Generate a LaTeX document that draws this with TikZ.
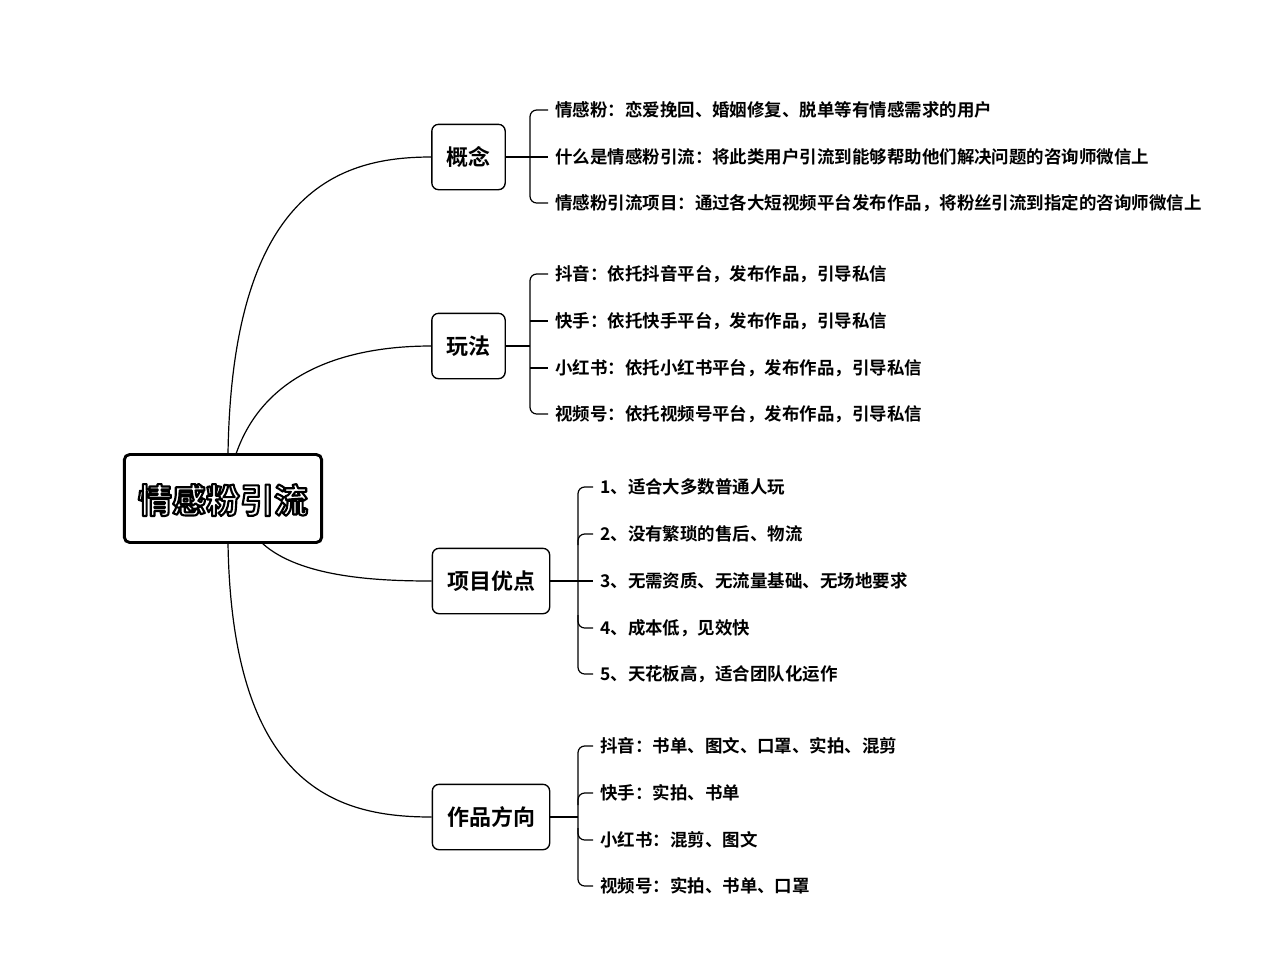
\documentclass[tikz,border=0pt]{standalone}
\usepackage{fontspec}
\usetikzlibrary{calc}
\setmainfont{Noto Sans CJK SC}[BoldFont={Noto Sans CJK SC Bold}]
\newcommand{\outlinedtext}[1]{{\color{white}\special{pdf:literal direct 2 Tr 1.6 w 1 j 0 G}#1\special{pdf:literal direct 0 Tr}}}
\begin{document}
\begin{tikzpicture}[x=0.75pt,y=-0.75pt,
  conn/.style={line width=0.9pt},
  subbox/.style={draw,line width=1pt,rounded corners=5pt,fill=white,minimum height=49pt,font=\fontsize{16.5pt}{18pt}\selectfont\bfseries,inner xsep=9pt},
  leaf/.style={anchor=west,inner sep=0pt,font=\fontsize{13.1pt}{15pt}\selectfont\bfseries},
  brk/.style={line width=0.9pt,rounded corners=5pt}]
\useasboundingbox (0,0) rectangle (1280,979);
\fill[white] (0,0) rectangle (1280,979);

% root
\node[draw,line width=2.2pt,rounded corners=4pt,minimum width=148pt,minimum height=66pt] (root) at (223,498.5) {};
\node[font=\fontsize{25.5pt}{27pt}\selectfont\bfseries] (roottext) at (223,500) {\outlinedtext{情感粉引流}};

% sub nodes
\node[subbox,minimum width=55pt] (gn) at (468.5,157) {概念};
\node[subbox,minimum width=55pt] (wf) at (468.5,346) {玩法};
\node[subbox,minimum width=88pt] (yd) at (491,581) {项目优点};
\node[subbox,minimum width=88pt] (zp) at (491,817) {作品方向};

% curves from root
\coordinate (r1) at (228,454);
\coordinate (r2) at (236,454);
\coordinate (r3) at (262,543);
\coordinate (r4) at (228,543);
\draw[conn] (r1) .. controls (232,190) and (340,157) .. (gn.west);
\draw[conn] (r2) .. controls (265,370) and (350,346) .. (wf.west);
\draw[conn] (r3) .. controls (300,578) and (380,581) .. (yd.west);
\draw[conn] (r4) .. controls (232,790) and (340,817) .. (zp.west);

% leaves: 概念
\node[leaf] (g1) at (555,110) {情感粉：恋爱挽回、婚姻修复、脱单等有情感需求的用户};
\node[leaf] (g2) at (555,157) {什么是情感粉引流：将此类用户引流到能够帮助他们解决问题的咨询师微信上};
\node[leaf] (g3) at (555,203) {情感粉引流项目：通过各大短视频平台发布作品，将粉丝引流到指定的咨询师微信上};
\draw[conn] (gn.east) -- ($(g2.west)+(-7,0)$);
\draw[brk] ($(g1.west)+(-7,0)$) -- (530,110) -- (530,203) -- ($(g3.west)+(-7,0)$);

% 玩法
\node[leaf] (w1) at (555,274) {抖音：依托抖音平台，发布作品，引导私信};
\node[leaf] (w2) at (555,321) {快手：依托快手平台，发布作品，引导私信};
\node[leaf] (w3) at (555,368) {小红书：依托小红书平台，发布作品，引导私信};
\node[leaf] (w4) at (555,414) {视频号：依托视频号平台，发布作品，引导私信};
\coordinate (wb) at (530,346);
\draw[conn] (wf.east) -- (wb);
\draw[brk] ($(w1.west)+(-7,0)$) -- (530,274) -- (530,414) -- ($(w4.west)+(-7,0)$);
\draw[brk] (530,321) -- ($(w2.west)+(-7,0)$);
\draw[brk] (530,368) -- ($(w3.west)+(-7,0)$);

% 项目优点
\node[leaf] (y1) at (600,487) {1、适合大多数普通人玩};
\node[leaf] (y2) at (600,534) {2、没有繁琐的售后、物流};
\node[leaf] (y3) at (600,581) {3、无需资质、无流量基础、无场地要求};
\node[leaf] (y4) at (600,628) {4、成本低，见效快};
\node[leaf] (y5) at (600,674) {5、天花板高，适合团队化运作};
\draw[conn] (yd.east) -- ($(y3.west)+(-7,0)$);
\draw[brk] ($(y1.west)+(-7,0)$) -- (578,487) -- (578,674) -- ($(y5.west)+(-7,0)$);
\draw[brk] ($(y2.west)+(-7,0)$) -- (578,534) -- (578,545);
\draw[brk] ($(y4.west)+(-7,0)$) -- (578,628) -- (578,615);

% 作品方向
\node[leaf] (z1) at (600,746) {抖音：书单、图文、口罩、实拍、混剪};
\node[leaf] (z2) at (600,793) {快手：实拍、书单};
\node[leaf] (z3) at (600,840) {小红书：混剪、图文};
\node[leaf] (z4) at (600,886) {视频号：实拍、书单、口罩};
\coordinate (zb) at (578,817);
\draw[conn] (zp.east) -- (zb);
\draw[brk] ($(z1.west)+(-7,0)$) -- (578,746) -- (578,886) -- ($(z4.west)+(-7,0)$);
\draw[brk] ($(z2.west)+(-7,0)$) -- (578,793) -- (578,805);
\draw[brk] ($(z3.west)+(-7,0)$) -- (578,840) -- (578,828);
\end{tikzpicture}
\end{document}
